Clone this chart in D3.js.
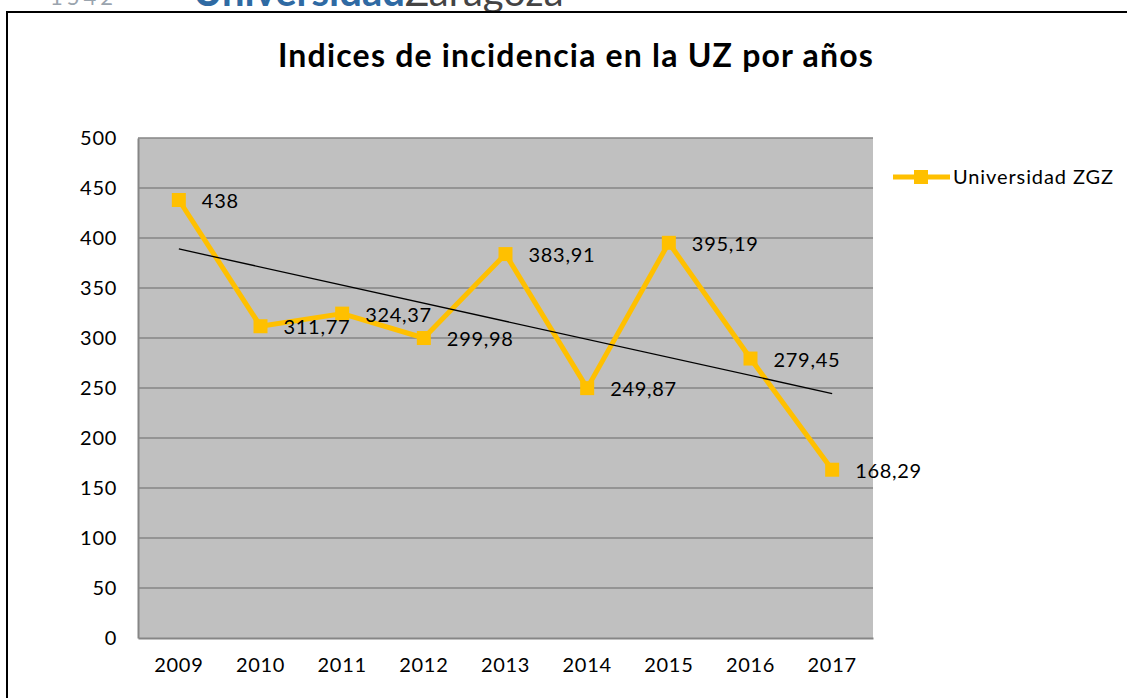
<!DOCTYPE html>
<html><head><meta charset="utf-8">
<script src="https://cdnjs.cloudflare.com/ajax/libs/d3/7.8.5/d3.min.js"></script>
<style>body{margin:0;background:#fff;}svg{display:block;font-family:Lato,"Open Sans",sans-serif;}</style>
</head><body><svg id="c" width="1127" height="698"></svg>
<script>
const years = ["2009","2010","2011","2012","2013","2014","2015","2016","2017"];
const values = [438, 311.77, 324.37, 299.98, 383.91, 249.87, 395.19, 279.45, 168.29];
const valueLabels = ["438","311,77","324,37","299,98","383,91","249,87","395,19","279,45","168,29"];
const yTicks = [0,50,100,150,200,250,300,350,400,450,500];
const seriesName = "Universidad ZGZ";
const title = "Indices de incidencia en la UZ por años";

(function(){
const svg = d3.select("#c");
const gold = "#FFC000";
const pL = 138, pR = 873, pT = 138, pB = 638;
const fs = 20, ls = "0.7px";

// header fragment (cropped logo text, as in the source image)
svg.append("text").attr("x", 50).attr("y", 5).attr("font-size", 22).attr("letter-spacing","4px").attr("fill", "#9aa4ae").text("1542");
const hdr = svg.append("text").attr("x", 193).attr("y", 6).attr("font-size", 40);
hdr.append("tspan").attr("fill", "#2f6aa3").attr("font-weight","bold").text("Universidad");
hdr.append("tspan").attr("fill", "#444").text("Zaragoza");

// frame
svg.append("rect").attr("x", 7).attr("y", 12).attr("width", 1130).attr("height", 700)
  .attr("fill", "#fff").attr("stroke", "#000").attr("stroke-width", 2);

svg.append("text").attr("x", 576).attr("y", 67).attr("text-anchor","middle")
  .attr("font-size", 32).attr("letter-spacing","1.2px").attr("font-weight","bold").attr("fill","#000").text(title);

const x = d3.scaleBand().domain(years).range([pL, pR]);
const y = d3.scaleLinear().domain([0, 500]).range([pB, pT]);

svg.append("rect").attr("x", pL).attr("y", pT).attr("width", pR-pL).attr("height", pB-pT).attr("fill", "#C0C0C0");

// gridlines
svg.append("g").selectAll("line").data(yTicks.filter(t=>t>0)).join("line")
  .attr("x1", pL).attr("x2", pR).attr("y1", d=>y(d)).attr("y2", d=>y(d))
  .attr("stroke", "#868686").attr("stroke-width", 1.5);

// axes
const yAxis = svg.append("g").attr("transform", `translate(${pL},0)`)
  .call(d3.axisLeft(y).tickValues(yTicks).tickSize(0).tickPadding(21));
yAxis.select(".domain").attr("stroke", "#868686").attr("stroke-width", 2);
yAxis.selectAll("text").attr("font-size", fs).attr("letter-spacing", ls).attr("font-family","Lato").attr("fill","#000");

const xAxis = svg.append("g").attr("transform", `translate(0,${pB})`)
  .call(d3.axisBottom(x).tickSize(0).tickPadding(20));
xAxis.select(".domain").attr("stroke", "#868686").attr("stroke-width", 2);
xAxis.selectAll("text").attr("font-size", fs).attr("letter-spacing", ls).attr("font-family","Lato").attr("fill","#000");

const cx = d => x(d) + x.bandwidth()/2;

// line
const pts = years.map((yr,i)=>[cx(yr), y(values[i])]);
svg.append("path").attr("d", d3.line()(pts)).attr("fill","none").attr("stroke", gold).attr("stroke-width", 5).attr("stroke-linejoin","round");

// trendline (linear regression)
const n = values.length, xs = values.map((_,i)=>i+1);
const mx = d3.mean(xs), my = d3.mean(values);
const slope = d3.sum(xs.map((xi,i)=>(xi-mx)*(values[i]-my))) / d3.sum(xs.map(xi=>(xi-mx)**2));
const icpt = my - slope*mx;
svg.append("line").attr("x1", cx(years[0])).attr("x2", cx(years[n-1]))
  .attr("y1", y(icpt + slope*1)).attr("y2", y(icpt + slope*n))
  .attr("stroke", "#000").attr("stroke-width", 1.3);

// markers
svg.append("g").selectAll("rect").data(pts).join("rect")
  .attr("x", d=>d[0]-7).attr("y", d=>d[1]-7).attr("width", 14).attr("height", 14).attr("fill", gold);

// labels
svg.append("g").selectAll("text").data(pts).join("text")
  .attr("x", d=>d[0]+23).attr("y", d=>d[1]+1).attr("dy","0.35em")
  .attr("font-size", fs).attr("letter-spacing", ls).attr("fill","#000").text((d,i)=>valueLabels[i]);

// legend
svg.append("line").attr("x1", 893).attr("x2", 950).attr("y1", 177).attr("y2", 177).attr("stroke", gold).attr("stroke-width", 5);
svg.append("rect").attr("x", 914).attr("y", 170).attr("width", 14).attr("height", 14).attr("fill", gold);
svg.append("text").attr("x", 953).attr("y", 177).attr("dy","0.35em").attr("font-size", fs).attr("letter-spacing", "0.9px").attr("fill","#000").text(seriesName);
})();
</script></body></html>
